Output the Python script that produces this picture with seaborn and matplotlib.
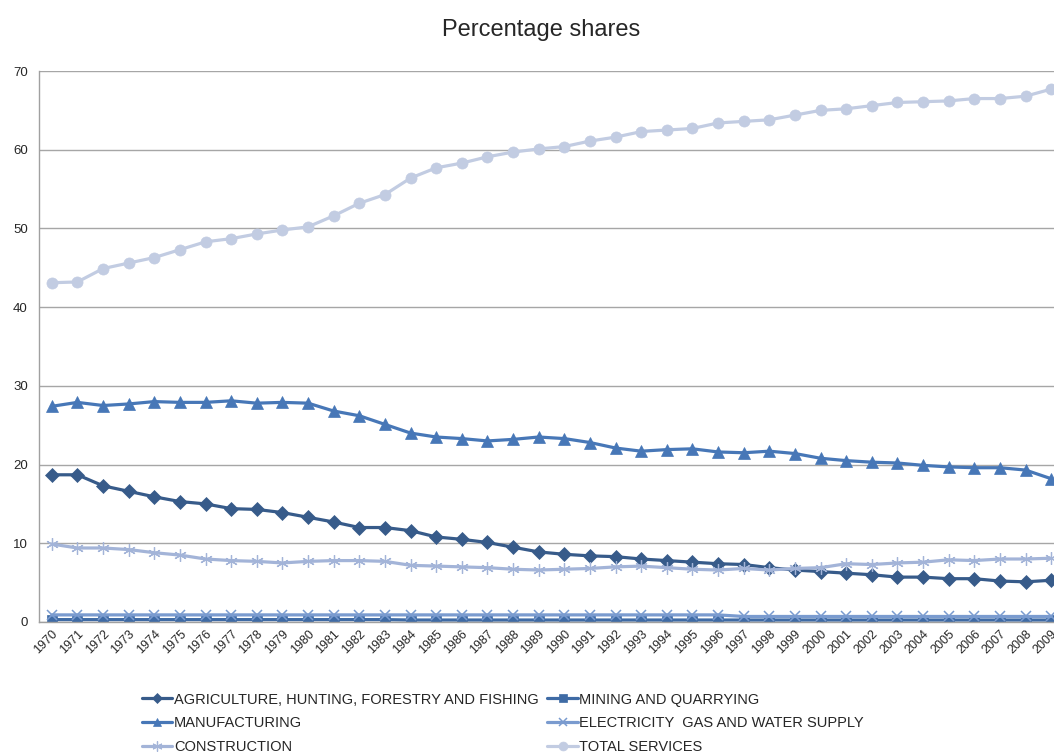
import matplotlib
matplotlib.use("Agg")
import matplotlib.pyplot as plt
import seaborn as sns
import pandas as pd

years = list(range(1970, 2010))

agriculture = [18.7, 18.7, 17.3, 16.6, 15.9, 15.3, 15.0, 14.4, 14.3, 13.9,
               13.3, 12.7, 12.0, 12.0, 11.6, 10.8, 10.5, 10.1, 9.5, 8.9,
               8.6, 8.4, 8.3, 8.0, 7.8, 7.6, 7.4, 7.3, 6.9, 6.6,
               6.4, 6.2, 6.0, 5.7, 5.7, 5.5, 5.5, 5.2, 5.1, 5.3]
mining = [0.3] * 14 + [0.25] * 26
manufacturing = [27.4, 27.9, 27.5, 27.7, 28.0, 27.9, 27.9, 28.1, 27.8, 27.9,
                 27.8, 26.8, 26.2, 25.1, 24.0, 23.5, 23.3, 23.0, 23.2, 23.5,
                 23.3, 22.8, 22.1, 21.7, 21.9, 22.0, 21.6, 21.5, 21.7, 21.4,
                 20.8, 20.5, 20.3, 20.2, 19.9, 19.7, 19.6, 19.6, 19.3, 18.2]
electricity = [0.9] * 27 + [0.7] * 13
construction = [9.9, 9.4, 9.4, 9.2, 8.8, 8.5, 8.0, 7.8, 7.7, 7.5,
                7.7, 7.8, 7.8, 7.7, 7.2, 7.1, 7.0, 6.9, 6.7, 6.6,
                6.7, 6.8, 7.0, 7.1, 6.9, 6.7, 6.6, 6.8, 6.6, 6.8,
                6.9, 7.4, 7.3, 7.5, 7.6, 7.9, 7.8, 8.0, 8.0, 8.1]
services = [43.1, 43.2, 44.9, 45.6, 46.3, 47.3, 48.3, 48.7, 49.3, 49.8,
            50.2, 51.6, 53.2, 54.3, 56.4, 57.7, 58.3, 59.1, 59.7, 60.1,
            60.4, 61.1, 61.6, 62.3, 62.5, 62.7, 63.4, 63.6, 63.8, 64.4,
            65.0, 65.2, 65.6, 66.0, 66.1, 66.2, 66.5, 66.5, 66.8, 67.7]

sector_names = [
    "AGRICULTURE, HUNTING, FORESTRY AND FISHING",
    "MINING AND QUARRYING",
    "MANUFACTURING",
    "ELECTRICITY  GAS AND WATER SUPPLY",
    "CONSTRUCTION",
    "TOTAL SERVICES",
]
sector_values = [agriculture, mining, manufacturing, electricity, construction, services]
sector_colors = ["#375b8a", "#3f6ba5", "#4777b7", "#7a9bcf", "#a3b4d8", "#c2cce2"]
sector_markers = ["D", "s", "^", "x", (6, 2, 0), "o"]
marker_sizes = [7, 7, 8, 7, 9, 8]
edge_widths = [0.5, 0.5, 0.5, 1.1, 0.9, 0.5]

df = pd.concat(
    [pd.DataFrame({"year": years, "share": vals, "sector": name})
     for name, vals in zip(sector_names, sector_values)],
    ignore_index=True,
)

sns.set_style("white")
plt.rcParams["font.family"] = ["Liberation Sans", "DejaVu Sans"]

fig = plt.figure(figsize=(10.54, 7.53), dpi=100)
ax = fig.add_axes([0.037, 0.174, 0.9725, 0.7317])

handles = {}
for name, color, mk, ms, ew in zip(sector_names, sector_colors, sector_markers,
                                   marker_sizes, edge_widths):
    sub = df[df["sector"] == name]
    sns.lineplot(data=sub, x="year", y="share", ax=ax, color=color,
                 linewidth=2.3, marker=mk, markersize=ms,
                 markeredgecolor=color, markeredgewidth=ew,
                 label=name, legend=False)
    handles[name] = ax.lines[-1]

ax.set_xlim(1969.5, 2009.5)
ax.set_ylim(0, 70)
ax.set_yticks(range(0, 71, 10))
ax.set_xticks(years)
ax.set_xticklabels([str(y) for y in years], rotation=45, ha="right",
                   rotation_mode="anchor", fontsize=9)
ax.tick_params(axis="y", labelsize=9.5, length=0, pad=8)
ax.tick_params(axis="x", length=0, pad=4)
ax.yaxis.grid(True, color="#a6a6a6", linewidth=1)
ax.set_axisbelow(True)
ax.set_xlabel("")
ax.set_ylabel("")
for side in ("top", "right"):
    ax.spines[side].set_visible(False)
for side in ("left", "bottom"):
    ax.spines[side].set_color("#a0a0a0")
    ax.spines[side].set_linewidth(1)

fig.text(0.513, 0.96, "Percentage shares", ha="center", va="center", fontsize=17)

order = [sector_names[i] for i in (0, 2, 4, 1, 3, 5)]
fig.legend([handles[n] for n in order], order, ncol=2, loc="upper left",
           bbox_to_anchor=(0.129, 0.088), frameon=False, fontsize=10.5,
           handlelength=2.1, handletextpad=0.1, columnspacing=0.6,
           labelspacing=0.68, borderaxespad=0, markerscale=0.8)

fig.savefig("out.png", dpi=100)
